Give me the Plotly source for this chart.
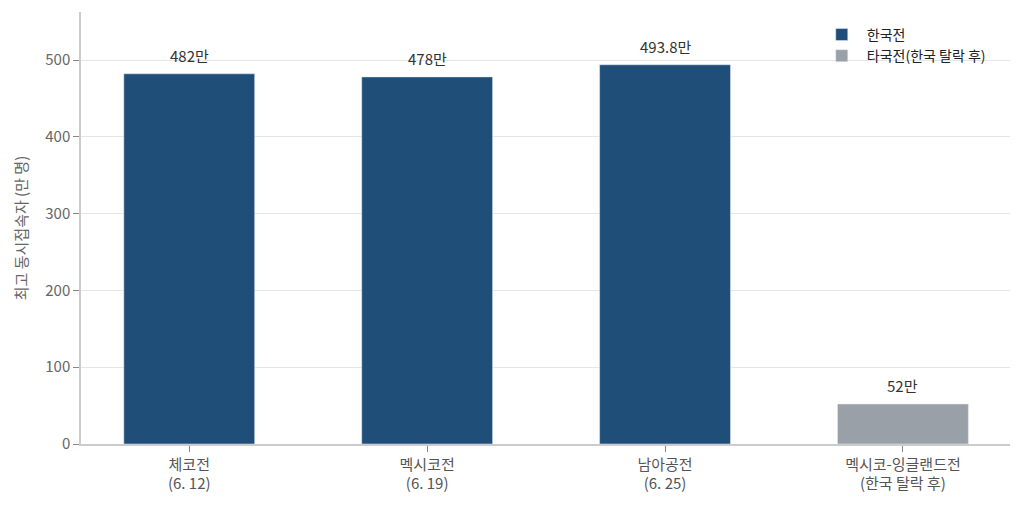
import plotly.graph_objects as go

categories = ["체코전<br>(6. 12)", "멕시코전<br>(6. 19)", "남아공전<br>(6. 25)", "멕시코-잉글랜드전<br>(한국 탈락 후)"]
korea_cats = categories[:3]
korea_vals = [482, 478, 493.8]
korea_labels = ["482만", "478만", "493.8만"]
other_cats = categories[3:]
other_vals = [52]
other_labels = ["52만"]

FONT = "Noto Sans CJK KR"

fig = go.Figure()
fig.add_trace(go.Bar(
    x=korea_cats, y=korea_vals, name="한국전", marker_color="#1f4e79",
    width=0.55,
))
fig.add_trace(go.Bar(
    x=other_cats, y=other_vals, name="타국전(한국 탈락 후)", marker_color="#9aa0a8",
    width=0.55,
))

for xs, ys, labels in [(korea_cats, korea_vals, korea_labels), (other_cats, other_vals, other_labels)]:
    for x, y, t in zip(xs, ys, labels):
        fig.add_annotation(x=x, y=y, text=t, showarrow=False, yanchor="bottom", yshift=6,
                           font=dict(size=15, color="#333333", family=FONT))

fig.update_layout(
    width=1016, height=497,
    margin=dict(l=73, r=14, t=4, b=61, autoexpand=False),
    paper_bgcolor="white", plot_bgcolor="white",
    barmode="overlay",
    font=dict(family=FONT, color="#555555", size=14),
    showlegend=True,
    legend=dict(x=0.792, y=0.984, xanchor="left", yanchor="top",
                font=dict(size=14, color="#222222", family=FONT),
                bgcolor="rgba(0,0,0,0)", tracegroupgap=5, itemwidth=40),
    xaxis=dict(
        categoryorder="array", categoryarray=categories,
        range=[-0.455, 3.45], automargin=False,
        showline=True, linecolor="#cccccc", linewidth=1.5,
        ticks="outside", ticklen=6, tickcolor="#888888",
        tickfont=dict(size=15, color="#555555"),
    ),
    yaxis=dict(
        range=[0, 562.5], automargin=False,
        tickvals=[0, 100, 200, 300, 400, 500],
        showline=True, linecolor="#cccccc", linewidth=1.5,
        ticks="outside", ticklen=6, tickcolor="#888888",
        gridcolor="#e6e6e6", zeroline=False,
        tickfont=dict(size=15, color="#666666"),
        title=dict(text="최고 동시접속자 (만 명)", font=dict(size=15, color="#666666"), standoff=14),
    ),
)

fig.write_html("out.html")
